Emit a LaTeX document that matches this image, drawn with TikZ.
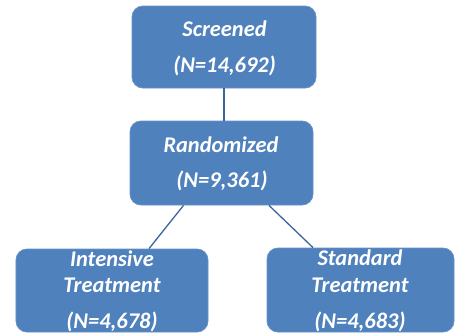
\documentclass[tikz,border=0pt]{standalone}
\usepackage{fontspec}
\setmainfont{Carlito}
\definecolor{boxblue}{HTML}{4F81BD}
\definecolor{boxedge}{HTML}{6690C6}
\definecolor{linkblue}{HTML}{3A659E}
\begin{document}
\begin{tikzpicture}[x=1bp,y=-1bp,
  box/.style={draw=boxedge, line width=0.8bp, fill=boxblue, rounded corners=11bp, inner sep=0pt},
  lbl/.style={text=white, font=\fontsize{22.5}{27}\selectfont\bfseries\itshape, anchor=base, inner sep=0pt},
  link/.style={draw=linkblue, line width=1.3bp}]
\useasboundingbox (0,0) rectangle (455,335);

% boxes
\node[box, minimum width=184bp, minimum height=82bp] (screened) at (224,47) {};
\node[box, minimum width=183bp, minimum height=84bp] (randomized) at (221.5,163) {};
\node[box, minimum width=192bp, minimum height=83bp] (intensive) at (112,290.5) {};
\node[box, minimum width=187bp, minimum height=84bp] (standard) at (360.5,290) {};

% connectors
\draw[link] (screened.south) -- (screened.south |- randomized.north);
\draw[link] ([xshift=-38bp]randomized.south) -- ([xshift=37bp]intensive.north);
\draw[link] ([xshift=47.5bp]randomized.south) -- ([xshift=-47.5bp]standard.north);

% labels
\node[lbl] (scrA) at (224.5,36) {Screened};
\node[lbl] (scrB) at (224.5,72) {(N=14,692)};
\node[lbl] (ranA) at (221,152) {Randomized};
\node[lbl] (ranB) at (222,187) {(N=9,361)};
\node[lbl] (intA) at (112,266) {Intensive};
\node[lbl] (intB) at (112,292) {Treatment};
\node[lbl] (intC) at (112,328) {(N=4,678)};
\node[lbl] (stdA) at (360,265) {Standard};
\node[lbl] (stdB) at (360,292) {Treatment};
\node[lbl] (stdC) at (360,328) {(N=4,683)};
\end{tikzpicture}
\end{document}
